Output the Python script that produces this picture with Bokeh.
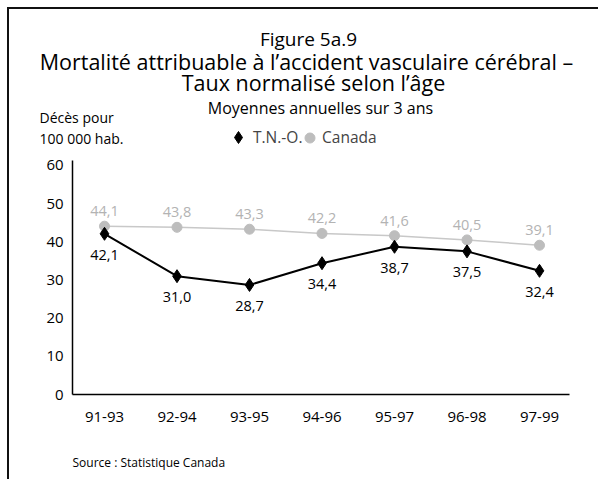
from bokeh.plotting import figure
from bokeh.models import (ColumnDataSource, LabelSet, Label, FixedTicker, Range1d,
                          Legend, LegendItem)
from bokeh.embed import file_html
from bokeh.resources import INLINE
from bokeh.core.properties import value

# ---- data ----
periods = ["91-93", "92-94", "93-95", "94-96", "95-97", "96-98", "97-99"]
tno = [42.1, 31.0, 28.7, 34.4, 38.7, 37.5, 32.4]
canada = [44.1, 43.8, 43.3, 42.2, 41.6, 40.5, 39.1]
y_ticks = [0, 10, 20, 30, 40, 50, 60]

FONT = "Open Sans"
W, H = 591, 472
FRAME_L = 9           # page x of frame left (whole canvas)
FRAME_B = 481         # page y of frame bottom (whole canvas)
ZERO_Y = 394          # page y of value 0 (x axis)
X0, DX = 104, 72.5    # page x of first category, spacing
PY = 3.817            # px per unit

xs = list(range(len(periods)))
fmt = lambda v: f"{v:.1f}".replace(".", ",")
src_tno = ColumnDataSource(dict(x=xs, y=tno, lab=[fmt(v) for v in tno]))
src_can = ColumnDataSource(dict(x=xs, y=canada, lab=[fmt(v) for v in canada]))

x_start = (FRAME_L - X0) / DX
x_end = (600 - X0) / DX
y_start = -(FRAME_B - ZERO_Y) / PY
y_end = (ZERO_Y - 9) / PY

p = figure(width=W, height=H, output_backend="svg", toolbar_location=None,
           x_range=Range1d(x_start, x_end), y_range=Range1d(y_start, y_end),
           min_border=0)
p.styles = {"margin-left": "7px", "margin-top": "7px",
            "border-left": "2px solid #111", "border-top": "2px solid #111"}
p.outline_line_color = None
p.xgrid.visible = False
p.ygrid.visible = False
p.background_fill_color = "white"
p.border_fill_color = "white"

for ax in (p.xaxis[0], p.yaxis[0]):
    ax.axis_line_color = "black"
    ax.axis_line_width = 1.5
    ax.major_tick_line_color = None
    ax.minor_tick_line_color = None
    ax.major_tick_out = 0
    ax.major_tick_in = 0
    ax.major_label_text_font = FONT
    ax.major_label_text_font_size = "15px"
    ax.major_label_text_color = "black"

p.yaxis.ticker = FixedTicker(ticks=y_ticks)
p.yaxis.major_label_standoff = 9
p.yaxis.bounds = (0, 61.3)
p.yaxis.fixed_location = -0.44
p.xaxis.ticker = FixedTicker(ticks=xs)
p.xaxis.major_label_overrides = {i: s for i, s in enumerate(periods)}
p.xaxis.major_label_standoff = 17
p.xaxis.bounds = (-0.44, 6.415)
p.xaxis.fixed_location = 0

# Canada series
p.line("x", "y", source=src_can, line_color="#c8c8c8", line_width=1.5)
r_can = p.scatter("x", "y", source=src_can, marker="circle", size=10,
                  fill_color="#bdbdbd", line_color="#bdbdbd")
# T.N.-O. series
p.line("x", "y", source=src_tno, line_color="black", line_width=2)
r_tno = p.scatter("x", "y", source=src_tno, marker="diamond", size=13,
                  fill_color="black", line_color="black")

p.add_layout(LabelSet(x="x", y="y", text="lab", source=src_can, y_offset=15,
                      text_align="center", text_baseline="middle",
                      text_font=value(FONT), text_font_size="14.5px",
                      text_color="#b3b3b3"))
p.add_layout(LabelSet(x="x", y="y", text="lab", source=src_tno, y_offset=-21,
                      text_align="center", text_baseline="middle",
                      text_font=value(FONT), text_font_size="14.5px",
                      text_color="black"))

def lab(text, px, py, size, align="center", color="black"):
    p.add_layout(Label(x=px - FRAME_L, y=FRAME_B - py, x_units="screen",
                       y_units="screen", text=text,
                       text_align=align, text_baseline="middle",
                       text_font=FONT, text_font_size=size,
                       text_color=color))

lab("Figure 5a.9", 308, 38, "19px")
lab("Mortalité attribuable à l\u2019accident vasculaire cérébral \u2013", 306, 61, "21.5px")
lab("Taux normalisé selon l\u2019âge", 313, 82, "21.5px")
lab("Moyennes annuelles sur 3 ans", 320, 107, "16px")
lab("Décès pour", 39, 117, "14px", align="left")
lab("100 000 hab.", 39, 138, "14px", align="left")
lab("Source : Statistique Canada", 72, 462, "12px", align="left")

def leg(label, renderer, glyph_left, glyph, standoff):
    lg = Legend(items=[LegendItem(label=label, renderers=[renderer])],
                location=(glyph_left - FRAME_L, FRAME_B - 137 - glyph / 2),
                glyph_width=glyph, glyph_height=glyph, label_standoff=standoff,
                padding=0, margin=0, border_line_color=None,
                background_fill_alpha=0, label_text_font=FONT,
                label_text_font_size="15.5px", label_text_baseline="middle")
    p.add_layout(lg, "center")

leg("T.N.-O.", r_tno, 223, 30, -3)
leg("Canada", r_can, 297, 25, -1)

open("out.html", "w").write(file_html(p, INLINE))
